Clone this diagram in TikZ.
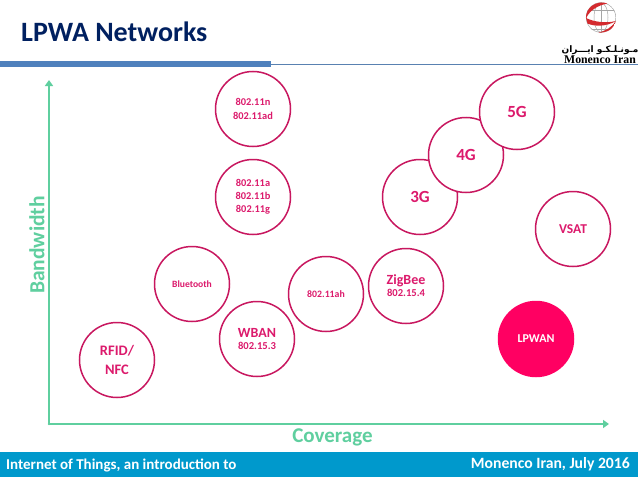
\documentclass[tikz,border=0pt]{standalone}
\usepackage{fontspec}
\setmainfont{Carlito}
\newfontfamily\arabicfont[Script=Arabic]{DejaVu Sans}
\newfontfamily\logofont{Liberation Serif}
\TeXXeTstate=1
\usetikzlibrary{arrows.meta}
\definecolor{titleblue}{HTML}{002060}
\definecolor{rulecol}{HTML}{4F81BD}
\definecolor{axiscol}{HTML}{5FCF9F}
\definecolor{ringcol}{HTML}{C8175F}
\definecolor{inkcol}{HTML}{DC1A6C}
\definecolor{solidcol}{HTML}{FF0062}
\definecolor{footcol}{HTML}{0099CC}
\definecolor{globered}{HTML}{D42A2E}
\newcommand{\fsz}[2]{\fontsize{#1}{#2}\selectfont\bfseries}
\tikzset{
  ring/.style={circle,draw=ringcol,line width=1.5pt,fill=white,minimum size=75pt,inner sep=0pt,align=center,text=inkcol},
  solidring/.style={ring,draw=solidcol,fill=solidcol,text=white},
  axisline/.style={draw=axiscol,line width=2.6pt,line cap=round,-{Triangle[length=6pt,width=8pt]}},
  axislabel/.style={text=axiscol,inner sep=0pt},
  foottext/.style={text=white,inner sep=0pt},
  big/.style={font=\fsz{17}{20}},
  mid/.style={font=\fsz{10.4}{13.2}},
  small/.style={font=\fsz{9.6}{12}}
}
\begin{document}
\begin{tikzpicture}[x=1pt,y=-1pt]
\useasboundingbox (0,0) rectangle (638,479);
\fill[white] (0,0) rectangle (638,479);
% title and rule
\node[anchor=west,inner sep=0pt,text=titleblue,font=\fsz{28}{30}] (title) at (21,32) {LPWA Networks};
\fill[rulecol] (0,61) rectangle (271,66.5);
\fill[rulecol!80!gray] (271,63.5) rectangle (638,65.2);
% logo
\begin{scope}
\clip (601,17.5) circle (15.2);
\draw[gray!70,line width=.5pt] (601,17.5) circle (14.8);
\draw[gray!70,line width=.5pt] (601,17.5) ellipse (7 and 14.8);
\draw[gray!70,line width=.5pt] (586,10) -- (616,10) (586,29) -- (616,29) (601,2) -- (601,33);
\fill[globered] (608,3.5) .. controls (596,-0.5) and (585,8) .. (586,19) .. controls (588,12) and (597,5) .. (608,3.5) -- cycle;
\fill[globered] (586,18) .. controls (594,22) and (606,23.5) .. (616,21) .. controls (606,27) and (594,26.5) .. (587.5,23.5) -- cycle;
\fill[globered] (616,21) .. controls (615,28) and (608,33) .. (598,32.6) .. controls (606,31) and (612,27) .. (616,21) -- cycle;
\end{scope}
\node[inner sep=0pt,font=\arabicfont\bfseries\fontsize{9}{11}\selectfont] (logofa) at (600,50) {\beginR مـونـلـکـو ایـــران\endR};
\node[inner sep=0pt,font=\logofont\bfseries\fontsize{11.8}{13}\selectfont] (logoen) at (600,59.8) {Monenco Iran};
% axes
\coordinate (origin) at (49,424);
\coordinate (ytip) at (49,80);
\coordinate (xtip) at (609,424);
\draw[axisline] (origin) -- (ytip);
\draw[axisline] (origin) -- (xtip);
\node[axislabel,rotate=90,font=\fsz{21.5}{24}] (ylab) at (37,245) {Bandwidth};
\node[axislabel,font=\fsz{21}{24}] (xlab) at (332.5,437) {Coverage};
% circles
\node[ring,font=\fsz{14.5}{19}] (rfid) at (117,360) {RFID/\\NFC};
\node[ring,small] (bt) at (192,284) {Bluetooth};
\node[ring] (wban) at (257,339) {{\fsz{14}{16}WBAN}\\{\fsz{10.6}{13}802.15.3}};
\node[ring,font=\fsz{9.8}{12}] (ah) at (326,294) {802.11ah};
\node[ring] (zig) at (406,286) {{\fsz{14}{16}ZigBee}\\{\fsz{10.6}{13}802.15.4}};
\node[ring,mid] (n) at (253,109) {802.11n\\802.11ad};
\node[ring,mid] (a) at (253,197) {802.11a\\802.11b\\802.11g};
\node[ring,big] (g3) at (420,197) {3G};
\node[ring,big] (g4) at (466,155) {4G};
\node[ring,big] (g5) at (517,112) {5G};
\node[ring,font=\fsz{13.5}{15}] (vsat) at (573,229) {VSAT};
\node[solidring,font=\fsz{12}{14}] (lpwan) at (536,339) {LPWAN};
% footer
\fill[footcol] (0,452) rectangle (638,477);
\node[foottext,anchor=west,font=\fsz{15}{17}] (footl) at (6,465) {Internet of Things, an introduction to};
\node[foottext,anchor=east,font=\fsz{15.7}{17}] (footr) at (630,464) {Monenco Iran, July 2016};
\end{tikzpicture}
\end{document}
